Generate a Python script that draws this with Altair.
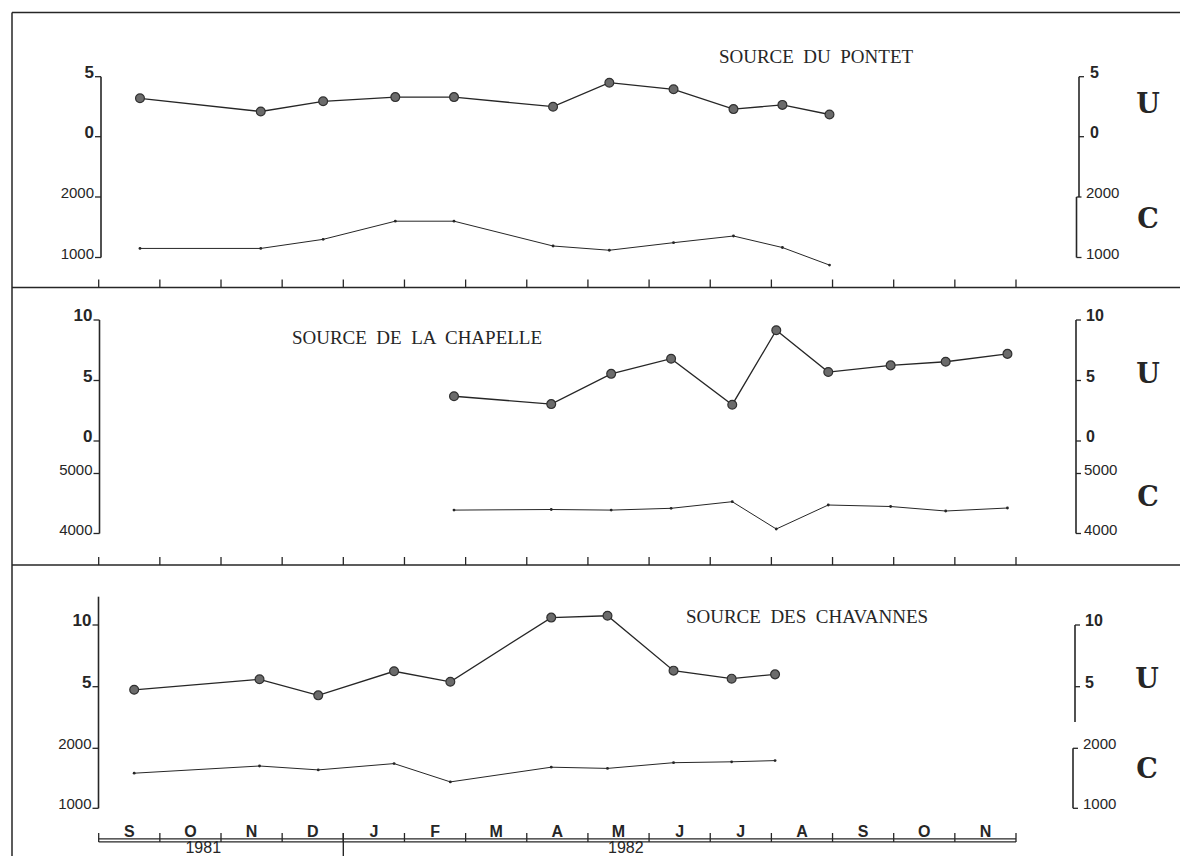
import altair as alt
import pandas as pd

# ---------------- data ----------------
month_labels = ["S", "O", "N", "D", "J", "F", "M", "A", "M", "J", "J", "A", "S", "O", "N"]
month_bounds = list(range(16))          # month boundaries, Sept 1981 = 0
year_labels = ["1981", "1982"]
year_pos = [1.71, 8.62]

# time in months since 1 Sept 1981
pontet_t = [0.675, 2.65, 3.67, 4.85, 5.81, 7.43, 8.35, 9.40, 10.38, 11.18, 11.95]
pontet_U = [3.2, 2.1, 2.95, 3.3, 3.3, 2.5, 4.5, 3.95, 2.3, 2.65, 1.85]
pontet_C = [1150, 1150, 1300, 1600, 1600, 1190, 1120, 1245, 1355, 1165, 875]

chapelle_t = [5.81, 7.40, 8.38, 9.36, 10.36, 11.08, 11.93, 12.95, 13.85, 14.86]
chapelle_U = [3.7, 3.05, 5.55, 6.8, 3.0, 9.15, 5.7, 6.25, 6.55, 7.2]
chapelle_C = [4390, 4400, 4390, 4420, 4530, 4075, 4475, 4450, 4375, 4425]

chavannes_t = [0.58, 2.63, 3.59, 4.83, 5.75, 7.40, 8.32, 9.40, 10.35, 11.06]
chavannes_U = [4.75, 5.6, 4.3, 6.25, 5.4, 10.6, 10.75, 6.3, 5.65, 6.0]
chavannes_C = [1585, 1705, 1640, 1745, 1440, 1685, 1665, 1760, 1775, 1795]

titles = ["SOURCE DU PONTET", "SOURCE DE LA CHAPELLE", "SOURCE DES CHAVANNES"]
u_ticks = [[0, 5], [0, 5, 10], [5, 10]]
c_ticks = [[1000, 2000], [4000, 5000], [1000, 2000]]

# ---------------- layout ----------------
W, H = 1172, 848
MG = 8


def p(v):
    return v - MG


INK = "#262626"
DOT_FILL = "#6b6b6b"
DOT_STROKE = "#303030"
SANS = "Liberation Sans"
SERIF = "Liberation Serif"

XS = alt.Scale(domain=[0, 15], range=[p(98.7), p(1016.0)], nice=False, zero=False)


def yscale(dom, rng):
    return alt.Scale(domain=dom, range=[p(rng[0]), p(rng[1])], nice=False, zero=False)


one = pd.DataFrame({"a": [0]})

panels = [
    dict(t=pontet_t, U=pontet_U, C=pontet_C, title=titles[0], title_xy=(816, 57),
         uS=yscale([0, 5], [136.7, 76.7]), cS=yscale([1000, 2000], [257.5, 197.0]),
         ut=u_ticks[0], ct=c_ticks[0],
         lx=101.0, lspan=(76.7, 257.5),
         rsegs=[(1079.0, 76.7, 197.0), (1076.5, 197.0, 257.5)], rux=1090, rcx=1086,
         U_xy=(1148, 105), C_xy=(1148, 220)),
    dict(t=chapelle_t, U=chapelle_U, C=chapelle_C, title=titles[1], title_xy=(417, 338),
         uS=yscale([0, 10], [441.0, 320.0]), cS=yscale([4000, 5000], [533.5, 473.5]),
         ut=u_ticks[1], ct=c_ticks[1],
         lx=99.5, lspan=(320.0, 533.5),
         rsegs=[(1076.0, 320.0, 533.5)], rux=1086, rcx=1084,
         U_xy=(1148, 375), C_xy=(1148, 498)),
    dict(t=chavannes_t, U=chavannes_U, C=chavannes_C, title=titles[2], title_xy=(807, 617),
         uS=yscale([5, 10], [686.7, 625.0]), cS=yscale([1000, 2000], [808.3, 748.3]),
         ut=u_ticks[2], ct=c_ticks[2],
         lx=98.5, lspan=(596.7, 808.3),
         rsegs=[(1075.0, 625.0, 722.0), (1073.0, 748.3, 808.3)], rux=1085, rcx=1083,
         U_xy=(1147, 680), C_xy=(1147, 770)),
]

layers = []


def vrule(x, y0, y1, w=1.4):
    return alt.Chart(one).mark_rule(color=INK, strokeWidth=w).encode(
        x=alt.value(p(x)), y=alt.value(p(y0)), y2=alt.value(p(y1)))


def hrule(x0, x1, y, w=1.4):
    return alt.Chart(one).mark_rule(color=INK, strokeWidth=w).encode(
        x=alt.value(p(x0)), x2=alt.value(p(x1)), y=alt.value(p(y)))


def label(txt, x, y, size, font=SANS, weight="normal", align="center", baseline="middle"):
    return alt.Chart(one).mark_text(
        text=txt, font=font, fontSize=size, fontWeight=weight, align=align,
        baseline=baseline, color=INK).encode(x=alt.value(p(x)), y=alt.value(p(y)))


# frame: top border, left border, separators
layers.append(hrule(12, 1188, 12.5, 1.3))
layers.append(vrule(12, 12.5, 870, 1.5))
for sep in (287.5, 565.0):
    layers.append(hrule(12, 1188, sep, 1.3))
    layers.append(alt.Chart(pd.DataFrame({"b": month_bounds})).mark_rule(color=INK, strokeWidth=1.3).encode(
        x=alt.X("b:Q", scale=XS, axis=None), y=alt.value(p(sep - 8)), y2=alt.value(p(sep))))

for P in panels:
    d = pd.DataFrame({"t": P["t"], "U": P["U"], "C": P["C"]})
    X = alt.X("t:Q", scale=XS, axis=None)
    # U series
    layers.append(alt.Chart(d).mark_line(color=INK, strokeWidth=1.3).encode(
        x=X, y=alt.Y("U:Q", scale=P["uS"], axis=None)))
    layers.append(alt.Chart(d).mark_circle(size=78, fill=DOT_FILL, stroke=DOT_STROKE,
                                           strokeWidth=1.2, opacity=1).encode(
        x=X, y=alt.Y("U:Q", scale=P["uS"], axis=None)))
    # C series
    layers.append(alt.Chart(d).mark_line(color=INK, strokeWidth=1.0).encode(
        x=X, y=alt.Y("C:Q", scale=P["cS"], axis=None)))
    layers.append(alt.Chart(d).mark_circle(size=8, color=INK, opacity=1).encode(
        x=X, y=alt.Y("C:Q", scale=P["cS"], axis=None)))

    # left axis
    lx = P["lx"]
    layers.append(vrule(lx, P["lspan"][0], P["lspan"][1], 1.6))
    for vals, sc, size, wt in ((P["ut"], P["uS"], 17, "bold"), (P["ct"], P["cS"], 15, "normal")):
        td = pd.DataFrame({"v": vals, "lab": [str(v) for v in vals]})
        layers.append(alt.Chart(td).mark_rule(color=INK, strokeWidth=1.3).encode(
            x=alt.value(p(lx - 6)), x2=alt.value(p(lx)), y=alt.Y("v:Q", scale=sc, axis=None)))
        layers.append(alt.Chart(td).mark_text(font=SANS, fontSize=size, fontWeight=wt, align="right",
                                              baseline="alphabetic", dy=1, dx=-1, color=INK).encode(
            x=alt.value(p(lx - 6)), y=alt.Y("v:Q", scale=sc, axis=None), text="lab:N"))

    # right axis
    for (rx, y0, y1) in P["rsegs"]:
        layers.append(vrule(rx, y0, y1, 1.6))
    rx_u = P["rsegs"][0][0]
    rx_c = P["rsegs"][-1][0]
    for vals, sc, size, wt, ax, lx2 in ((P["ut"], P["uS"], 16, "bold", rx_u, P["rux"]),
                                        (P["ct"], P["cS"], 15, "normal", rx_c, P["rcx"])):
        td = pd.DataFrame({"v": vals, "lab": [str(v) for v in vals]})
        layers.append(alt.Chart(td).mark_rule(color=INK, strokeWidth=1.3).encode(
            x=alt.value(p(ax)), x2=alt.value(p(ax + 5)), y=alt.Y("v:Q", scale=sc, axis=None)))
        layers.append(alt.Chart(td).mark_text(font=SANS, fontSize=size, fontWeight=wt, align="left",
                                              baseline="alphabetic", dy=1, color=INK).encode(
            x=alt.value(p(lx2)), y=alt.Y("v:Q", scale=sc, axis=None), text="lab:N"))

    # titles and U / C letters
    layers.append(label(P["title"].replace(" ", " \u00a0"), P["title_xy"][0], P["title_xy"][1], 19, font=SERIF))
    layers.append(label("U", P["U_xy"][0], P["U_xy"][1], 27, font="DejaVu Serif", weight="bold"))
    layers.append(label("C", P["C_xy"][0], P["C_xy"][1], 27, font="DejaVu Serif", weight="bold"))

# bottom time axis: double line, ticks, month and year labels
span = pd.DataFrame({"a": [0], "b": [15]})
for yy in (838.8, 841.8):
    layers.append(alt.Chart(span).mark_rule(color=INK, strokeWidth=1.2).encode(
        x=alt.X("a:Q", scale=XS, axis=None), x2="b:Q", y=alt.value(p(yy))))
layers.append(alt.Chart(pd.DataFrame({"b": month_bounds})).mark_rule(color=INK, strokeWidth=1.3).encode(
    x=alt.X("b:Q", scale=XS, axis=None), y=alt.value(p(833)), y2=alt.value(p(842))))
layers.append(alt.Chart(pd.DataFrame({"b": [4]})).mark_rule(color=INK, strokeWidth=1.4).encode(
    x=alt.X("b:Q", scale=XS, axis=None), y=alt.value(p(833)), y2=alt.value(H)))
md = pd.DataFrame({"m": [i + 0.5 for i in range(15)], "lab": month_labels})
layers.append(alt.Chart(md).mark_text(font=SANS, fontSize=16, fontWeight="bold", align="center",
                                      baseline="alphabetic", color=INK).encode(
    x=alt.X("m:Q", scale=XS, axis=None), y=alt.value(p(836.5)), text="lab:N"))
yd = pd.DataFrame({"m": year_pos, "lab": year_labels})
layers.append(alt.Chart(yd).mark_text(font=SANS, fontSize=16, align="center", baseline="bottom",
                                      color=INK).encode(
    x=alt.X("m:Q", scale=XS, axis=None), y=alt.value(H), text="lab:N"))

chart = (alt.layer(*layers)
         .resolve_scale(y="independent")
         .properties(width=W, height=H, padding=0, autosize=alt.AutoSizeParams(type="none"),
                     background="white")
         .configure_view(stroke=None))

chart.save("out.html", embed_options={"renderer": "svg", "actions": False})
